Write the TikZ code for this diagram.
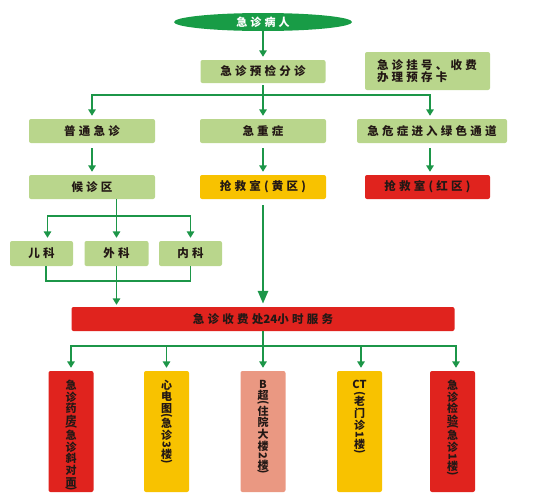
\documentclass[tikz,border=0pt]{standalone}
\usepackage{graphicx}
\usepackage{fontspec}
\setmainfont{Noto Sans CJK SC}[LetterSpace=28]
\newfontfamily\vfont{Noto Sans CJK SC}
\usetikzlibrary{arrows.meta,shapes.geometric}
\definecolor{lgreen}{RGB}{185,214,140}
\definecolor{dgreen}{RGB}{28,150,72}
\definecolor{ellgreen}{RGB}{24,156,70}
\definecolor{bred}{RGB}{224,35,30}
\definecolor{byellow}{RGB}{248,194,0}
\definecolor{salmon}{RGB}{234,152,130}
\definecolor{ink}{RGB}{35,24,21}
\newcommand\LP{\rotatebox[origin=c]{-90}{(}}
\newcommand\RP{\rotatebox[origin=c]{-90}{)}}
\newcommand\RD[1]{\rotatebox[origin=c]{-90}{#1}}
\newcommand\nolsk{\lineskiplimit-20pt\relax}
\tikzset{
  box/.style={rounded corners=2pt, inner sep=0pt, text=ink,
    font=\bfseries\fontsize{11.5}{12}\selectfont},
  gbox/.style={box, fill=lgreen},
  conn/.style={draw=dgreen, line width=1.7pt},
  arr/.style={conn, -{Triangle[width=7.5pt,length=6.5pt]}, shorten >=3pt},
  bigarr/.style={draw=dgreen, line width=2.8pt, -{Triangle[width=10pt,length=13pt]}},
  vbx/.style={rounded corners=2pt, minimum width=45pt, minimum height=121pt, inner sep=0pt},
  vtext/.style={anchor=north, inner sep=0pt, align=center, text=ink,
    font=\vfont\bfseries\fontsize{11}{11.6}\selectfont\nolsk}
}
\begin{document}
\begin{tikzpicture}[x=1pt,y=-1pt]
\useasboundingbox (0,0) rectangle (547,504);
% top
\node[ellipse, fill=ellgreen, minimum width=178pt, minimum height=18pt, inner sep=0pt,
  text=white, font=\bfseries\fontsize{11}{12}\selectfont] (ell) at (263,22) {急诊病人};
\node[gbox, minimum width=125pt, minimum height=23pt] (pre) at (263,71.5) {急诊预检分诊};
\node[gbox, minimum width=125pt, minimum height=38pt, text width=101pt, align=left] (reg) at (427.5,71) {急诊挂号、收费\\办理预存卡};
% row 2
\node[gbox, minimum width=126pt, minimum height=24pt] (n1) at (92,131) {普通急诊};
\node[gbox, minimum width=126pt, minimum height=24pt] (n2) at (263,131) {急重症};
\node[gbox, minimum width=150pt, minimum height=24pt] (n3) at (432,131) {急危症进入绿色通道};
% row 3
\node[gbox, minimum width=126pt, minimum height=24pt] (w1) at (92,187) {候诊区};
\node[box, fill=byellow, minimum width=126pt, minimum height=24pt] (y1) at (263,187) {抢救室(黄区)};
\node[box, fill=bred, minimum width=125pt, minimum height=24pt] (r1) at (427.5,187) {抢救室(红区)};
% row 4
\node[gbox, minimum width=63pt, minimum height=25pt] (k1) at (41.5,253.5) {儿科};
\node[gbox, minimum width=64pt, minimum height=25pt] (k2) at (116.5,253.5) {外科};
\node[gbox, minimum width=63pt, minimum height=25pt] (k3) at (190.5,253.5) {内科};
% bar
\node[box, fill=bred, minimum width=383pt, minimum height=24pt] (bar) at (263,319) {急诊收费处{\vfont 24}小时服务};
% bottom boxes
\node[vbx, fill=bred] (b1) at (71,431.5) {};
\node[vbx, fill=byellow] (b2) at (166.5,431.5) {};
\node[vbx, fill=salmon] (b3) at (263,431.5) {};
\node[vbx, fill=byellow] (b4) at (359.5,431.5) {};
\node[vbx, fill=bred] (b5) at (452.5,431.5) {};
\node[vtext] (t1) at ([yshift=-9pt]b1.north) {急\\诊\\药\\房\\[-5.2pt]\LP\\[-2.6pt]急\\诊\\斜\\对\\面\\[-5.2pt]\RP};
\node[vtext] (t2) at ([yshift=-9pt]b2.north) {心\\电\\图\\[-5.2pt]\LP\\[-2.6pt]急\\诊\\[-2pt]\RD{3}\\[-2pt]楼\\[-5.2pt]\RP};
\node[vtext] (t3) at ([yshift=-9pt]b3.north) {B\\超\\[-5.2pt]\LP\\[-2.6pt]住\\院\\大\\楼\\[-2pt]\RD{2}\\[-2pt]楼\\[-5.2pt]\RP};
\node[vtext] (t4) at ([yshift=-9pt]b4.north) {CT\\[-3pt]\LP\\[-2.6pt]老\\门\\诊\\[-2pt]\RD{1}\\[-2pt]楼\\[-5.2pt]\RP};
\node[vtext] (t5) at ([yshift=-9pt]b5.north) {急\\诊\\检\\验\\[-5.2pt]\LP\\[-2.6pt]急\\诊\\[-2pt]\RD{1}\\[-2pt]楼\\[-5.2pt]\RP};
% connectors
\draw[arr] (ell) -- (pre);
\draw[conn, shorten <=2pt] (pre.south) -- ++(0,12) coordinate (j1);
\draw[arr] (j1) -| (n1.north);
\draw[arr] (j1) -- (n2.north);
\draw[arr] (j1) -| ([xshift=-2pt]n3.north);
\draw[arr, shorten <=5pt] (n1) -- (w1);
\draw[arr, shorten <=5pt] (n2) -- (y1);
\draw[arr, shorten <=5pt] ([xshift=-2pt]n3.south) -- ([xshift=-2pt]n3.south |- r1.north);
\draw[conn] (w1.south -| k2) -- ++(0,17) coordinate (j2);
\draw[arr] (j2) -| ([xshift=6pt]k1.north);
\draw[arr] (j2) -- (k2.north);
\draw[arr] (j2) -| (k3.north);
\draw[conn] ([xshift=4.5pt]k1.south) -- ++(0,15) coordinate (m1) -| (k3.south);
\draw[arr, shorten >=2pt] (k2.south) -- (k2.south |- bar.north);
\draw[bigarr, shorten <=6pt, shorten >=3pt] (y1) -- (bar);
\draw[conn] (bar.south) -- ++(0,15) coordinate (j3);
\draw[arr] (j3) -| (b1.north);
\draw[arr] (j3) -| (b2.north);
\draw[arr] (j3) -- (b3.north);
\draw[arr] (j3) -| ([xshift=1.5pt]b4.north);
\draw[arr] (j3) -| ([xshift=3.5pt]b5.north);
\end{tikzpicture}
\end{document}
